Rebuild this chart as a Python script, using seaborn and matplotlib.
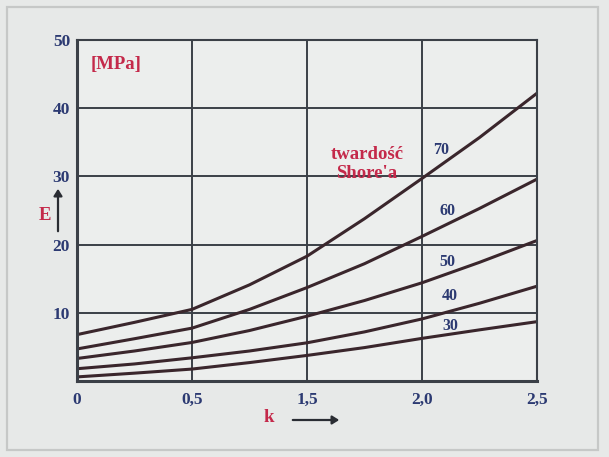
import numpy as np
import pandas as pd
import matplotlib
matplotlib.use("Agg")
import matplotlib.pyplot as plt
from matplotlib.patches import Rectangle, FancyArrowPatch
import seaborn as sns

# Grid positions along the k axis (one unit per grid cell) and their printed labels
k_pos = [0, 0.5, 1, 1.5, 2, 2.5, 3, 3.5, 4]
k_tick_pos = [0, 1, 2, 3, 4]
k_tick_labels = ["0", "0,5", "1,5", "2,0", "2,5"]
e_ticks = [10, 20, 30, 40, 50]

# Young's modulus E [MPa] for each Shore hardness
shore = [70, 60, 50, 40, 30]
e_70 = [6.8, 8.6, 10.5, 14.1, 18.3, 23.8, 29.7, 35.7, 42.2]
e_60 = [4.7, 6.2, 7.75, 10.5, 13.7, 17.2, 21.2, 25.3, 29.6]
e_50 = [3.3, 4.4, 5.65, 7.4, 9.5, 11.8, 14.4, 17.4, 20.6]
e_40 = [1.8, 2.5, 3.4, 4.4, 5.6, 7.2, 9.1, 11.4, 13.9]
e_30 = [0.6, 1.15, 1.75, 2.7, 3.75, 4.9, 6.25, 7.5, 8.7]

# Where each hardness value is written next to its curve
label_x = [3.1, 3.15, 3.15, 3.17, 3.18]
label_y = [33.8, 24.9, 17.4, 12.4, 8.0]

series = [e_70, e_60, e_50, e_40, e_30]
df = pd.concat(
    [pd.DataFrame({"k": k_pos, "E": vals, "shore": s}) for s, vals in zip(shore, series)],
    ignore_index=True,
)

sns.set_theme(style="white")
plt.rcParams["font.family"] = ["Liberation Serif", "DejaVu Serif"]
plt.rcParams["font.weight"] = "bold"

navy = "#2c3a72"
red = "#c4294a"
curve = "#3a262c"
gridc = "#3b4047"

fig = plt.figure(figsize=(6.09, 4.57), dpi=100)
fig.patch.set_facecolor("#e7e9e8")
ax = fig.add_axes([77 / 609, 1 - 381 / 457, 460 / 609, 341 / 457])
ax.set_facecolor("#eceeed")

sns.lineplot(
    data=df, x="k", y="E", units="shore", estimator=None,
    color=curve, linewidth=2.2, ax=ax, legend=False,
)

ax.set_xlim(0, 4)
ax.set_ylim(0, 50)
ax.set_xticks(k_tick_pos)
ax.set_xticklabels(k_tick_labels)
ax.set_yticks([0] + e_ticks)
ax.set_yticklabels([""] + [str(v) for v in e_ticks])
ax.set_xlabel("")
ax.set_ylabel("")
ax.grid(True, color=gridc, linewidth=1.4)
ax.set_axisbelow(True)
for side, lw in {"left": 2.2, "bottom": 2.2, "top": 1.5, "right": 1.5}.items():
    ax.spines[side].set_visible(True)
    ax.spines[side].set_color(gridc)
    ax.spines[side].set_linewidth(lw)
ax.tick_params(axis="both", colors=gridc, length=3, width=1.2, direction="out",
               labelcolor=navy, labelsize=12.5, pad=2)
ax.tick_params(axis="x", pad=5)
for t in ax.get_xticklabels() + ax.get_yticklabels():
    t.set_fontweight("bold")

for s, x, y in zip(shore, label_x, label_y):
    ax.text(x, y, str(s), color=navy, fontsize=11.5, fontweight="bold",
            ha="left", va="center")

ax.text(0.12, 46.4, "[MPa]", color=red, fontsize=13.5, fontweight="bold",
        ha="left", va="center")
ax.text(2.52, 31.8, "twardość\nShore'a", color=red, fontsize=13.5, fontweight="bold",
        ha="center", va="center", linespacing=1.2)

# axis names with arrows, placed in figure pixels
def fx(px):
    return px / 609

def fy(py):
    return 1 - py / 457

fig.text(fx(45), fy(215), "E", color=red, fontsize=13.5, fontweight="bold",
         ha="center", va="center")
fig.add_artist(FancyArrowPatch(
    (fx(58), fy(234)), (fx(58), fy(186)), transform=fig.transFigure,
    arrowstyle="-|>,head_length=4,head_width=2.5", color="#2a2d33", lw=1.6))
fig.text(fx(269), fy(418), "k", color=red, fontsize=13.5, fontweight="bold",
         ha="center", va="center")
fig.add_artist(FancyArrowPatch(
    (fx(290), fy(420)), (fx(342), fy(420)), transform=fig.transFigure,
    arrowstyle="-|>,head_length=4,head_width=2.5", color="#2a2d33", lw=1.6))

# outer frame
fig.add_artist(Rectangle((fx(7), fy(450)), fx(598) - fx(7), fy(7) - fy(450),
                         transform=fig.transFigure, fill=False,
                         edgecolor="#c6c8c7", linewidth=1.6))

fig.savefig("out.png", dpi=100, facecolor=fig.get_facecolor())
